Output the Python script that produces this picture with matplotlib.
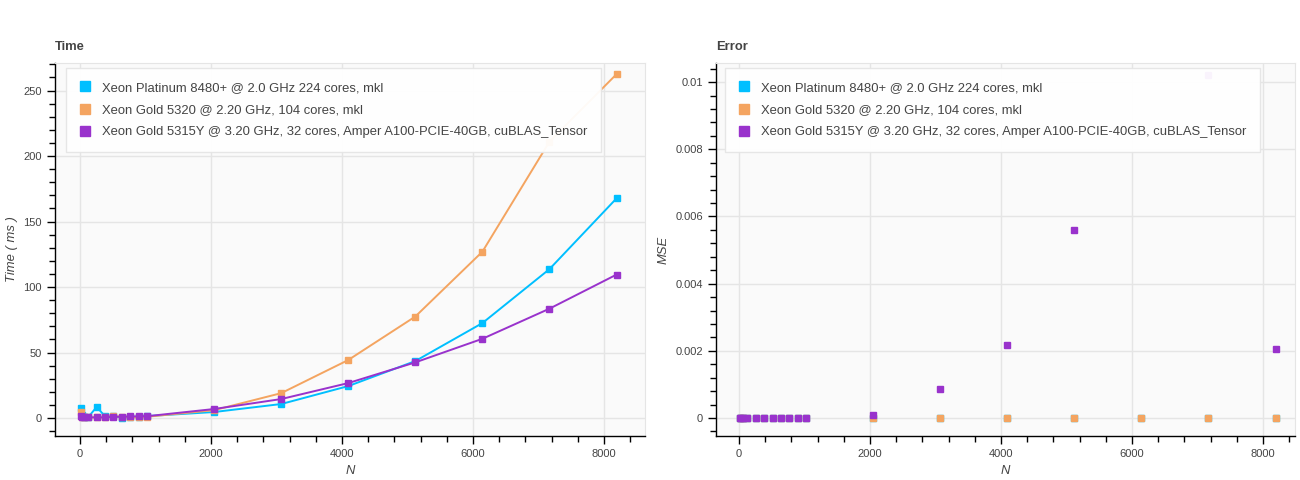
import numpy as np
import matplotlib
matplotlib.use('Agg')
import matplotlib.pyplot as plt
from matplotlib.lines import Line2D
from matplotlib.ticker import MultipleLocator, FuncFormatter

plt.rcParams['font.family'] = ['Liberation Sans', 'DejaVu Sans']

# matrix sizes
N = [16, 32, 64, 128, 256, 384, 512, 640, 768, 896, 1024,
     2048, 3072, 4096, 5120, 6144, 7168, 8192]

labels = ['Xeon Platinum 8480+ @ 2.0 GHz 224 cores, mkl',
          'Xeon Gold 5320 @ 2.20 GHz, 104 cores, mkl',
          'Xeon Gold 5315Y @ 3.20 GHz, 32 cores, Amper A100-PCIE-40GB, cuBLAS_Tensor']
colors = ['#00BFFF', '#F4A460', '#9932CC']

# time, ms
time_plat = [7.5, 2.0, 1.0, 0.8, 8.5, 1.2, 1.5, 0.3, 0.8, 1.0, 1.5,
             4.6, 10.7, 24.4, 43.5, 72.5, 113.7, 167.7]
time_gold = [4.5, 1.0, 0.5, 0.5, 0.5, 0.5, 1.5, 1.0, 0.5, 0.5, 1.0,
             6.0, 19.0, 44.3, 77.5, 127.0, 211.0, 262.5]
time_gpu = [1.5, 1.0, 0.5, 0.5, 0.5, 0.5, 1.0, 1.0, 1.2, 1.3, 1.4,
            6.9, 14.5, 26.7, 42.5, 60.5, 83.5, 109.5]

# error, MSE
mse_plat = [0.0] * 18
mse_gold = [0.0] * 18
mse_gpu = [0.0, 0.0, 0.0, 0.0, 0.0, 0.0, 0.0, 0.0, 0.0, 0.0, 0.0,
           0.00009, 0.00086, 0.00217, 0.0056, np.nan, 0.01022, 0.00205]

TXT = '#444444'
GRID = '#e5e5e5'

fig = plt.figure(figsize=(13, 4.8), dpi=100)
ax1 = fig.add_axes([55 / 1300, 1 - 436 / 480, 590 / 1300, 373 / 480])
ax2 = fig.add_axes([716 / 1300, 1 - 436 / 480, 579 / 1300, 373 / 480])


def style(ax, title, ylabel):
    ax.set_facecolor('#fafafa')
    ax.grid(True, color=GRID, linewidth=1)
    ax.set_axisbelow(True)
    for s in ['top', 'right']:
        ax.spines[s].set_color(GRID)
    for s in ['left', 'bottom']:
        ax.spines[s].set_color('black')
        ax.spines[s].set_linewidth(1)
    ax.tick_params(which='major', direction='out', length=6, width=1,
                   labelsize=8, labelcolor=TXT, color='black')
    ax.tick_params(which='minor', direction='out', length=4, width=1, color='black')
    ax.tick_params(top=False, right=False)
    ax.set_title(title, loc='left', fontsize=9.4, fontweight='bold', color=TXT, pad=9)
    ax.set_xlabel('N', fontsize=9.4, style='italic', color=TXT)
    ax.set_ylabel(ylabel, fontsize=9.4, style='italic', color=TXT)
    ax.xaxis.set_major_locator(MultipleLocator(2000))
    ax.xaxis.set_minor_locator(MultipleLocator(400))


def add_legend(ax, x0):
    handles = [Line2D([], [], linestyle='none', marker='s', markersize=7,
                      markerfacecolor=c, markeredgecolor=c) for c in colors]
    leg = ax.legend(handles, labels, loc='upper left', bbox_to_anchor=(x0, 0.9866),
                    borderaxespad=0, fontsize=9.4, frameon=True, fancybox=False,
                    handlelength=0.8, handletextpad=0.9, labelspacing=0.78,
                    borderpad=1.05, labelcolor=TXT)
    fr = leg.get_frame()
    fr.set_facecolor('white')
    fr.set_alpha(0.95)
    fr.set_edgecolor(GRID)
    fr.set_linewidth(1)
    leg.set_zorder(10)


# Time
style(ax1, 'Time', 'Time ( ms )')
for ys, c in zip([time_plat, time_gold, time_gpu], colors):
    ax1.plot(N, ys, color=c, linewidth=1.4, marker='s', markersize=4.5,
             markeredgecolor=c, markerfacecolor=c)
ax1.set_xlim(-381, 8626)
ax1.set_ylim(-13.7, 271)
ax1.yaxis.set_major_locator(MultipleLocator(50))
ax1.yaxis.set_minor_locator(MultipleLocator(10))
add_legend(ax1, 11 / 590)

# Error
style(ax2, 'Error', 'MSE')
for ys, c in zip([mse_plat, mse_gold, mse_gpu], colors):
    ax2.plot(N, ys, color=c, linestyle='none', marker='s', markersize=4.5,
             markeredgecolor=c, markerfacecolor=c)
ax2.set_xlim(-351, 8489)
ax2.set_ylim(-0.000536, 0.01057)
ax2.yaxis.set_major_locator(MultipleLocator(0.002))
ax2.yaxis.set_minor_locator(MultipleLocator(0.0004))
ax2.yaxis.set_major_formatter(FuncFormatter(lambda v, p: f'{v:g}' if abs(v) > 1e-12 else '0'))
add_legend(ax2, 9 / 579)

fig.savefig('out.png', dpi=100, facecolor='white')
